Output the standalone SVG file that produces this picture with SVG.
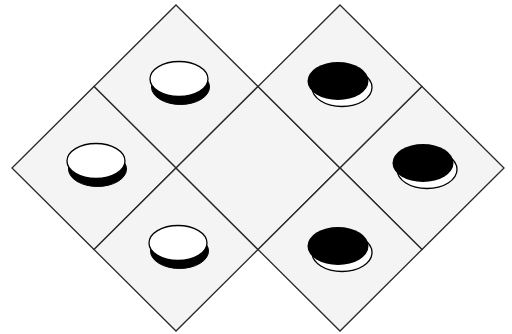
<svg xmlns="http://www.w3.org/2000/svg" width="512" height="334" viewBox="0 0 512 334">
<defs>
<style>
.cell{fill:#f4f4f4;stroke:#2a2a2a;stroke-width:1.3;stroke-linejoin:miter}
.wtop{fill:#fff;stroke:#000;stroke-width:1.3}
.wside{fill:#000;stroke:#000;stroke-width:1}
.bbase{fill:#fff;stroke:#000;stroke-width:1.3}
.btop{fill:#000}
</style>
<g id="wdisk">
<ellipse class="wside" cx="1.5" cy="8" rx="29" ry="17.5"/>
<ellipse class="wtop" cx="0" cy="0" rx="29" ry="17.5"/>
</g>
<g id="bdisk">
<ellipse class="bbase" cx="4" cy="6.5" rx="30" ry="19"/>
<ellipse class="btop" cx="0" cy="0" rx="30.5" ry="19"/>
</g>
</defs>
<rect width="512" height="334" fill="#fff"/>
<g id="cell-top-left">
<polygon class="cell" points="176,5 258,86.5 176,168 94,86.5"/>
<use href="#wdisk" x="179" y="79"/>
</g>
<g id="cell-left">
<polygon class="cell" points="94,86.5 176,168 94,249.5 12,168"/>
<use href="#wdisk" x="96" y="161"/>
</g>
<g id="cell-bottom-left">
<polygon class="cell" points="176,168 258,249.5 176,331 94,249.5"/>
<use href="#wdisk" x="178" y="243"/>
</g>
<g id="cell-middle">
<polygon class="cell" points="258,86.5 340,168 258,249.5 176,168"/>
</g>
<g id="cell-top-right">
<polygon class="cell" points="340,5 422,86.5 340,168 258,86.5"/>
<use href="#bdisk" x="338" y="81"/>
</g>
<g id="cell-right">
<polygon class="cell" points="422,86.5 504,168 422,249.5 340,168"/>
<use href="#bdisk" x="423" y="163"/>
</g>
<g id="cell-bottom-right">
<polygon class="cell" points="340,168 422,249.5 340,331 258,249.5"/>
<use href="#bdisk" x="338" y="246"/>
</g>
<g id="connectors"/>
</svg>
